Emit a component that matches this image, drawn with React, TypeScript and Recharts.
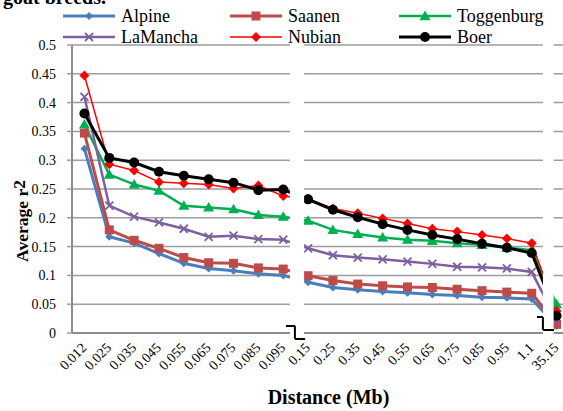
import React from 'react'
import {
  LineChart, Line, XAxis, YAxis, CartesianGrid, ReferenceArea, ReferenceLine,
} from 'recharts'

const DISTANCES = [
  '0.012', '0.025', '0.035', '0.045', '0.055', '0.065', '0.075', '0.085', '0.095',
  '0.15', '0.25', '0.35', '0.45', '0.55', '0.65', '0.75', '0.85', '0.95', '1.1', '35.15',
]

const ALPINE = [0.32, 0.167, 0.156, 0.138, 0.121, 0.112, 0.108, 0.103, 0.1, 0.088, 0.079, 0.075, 0.072, 0.07, 0.067, 0.065, 0.062, 0.061, 0.059, 0.012]
const SAANEN = [0.347, 0.179, 0.161, 0.147, 0.131, 0.122, 0.121, 0.113, 0.111, 0.0995, 0.091, 0.085, 0.082, 0.08, 0.079, 0.076, 0.0735, 0.071, 0.069, 0.015]
const TOGGENBURG = [0.362, 0.275, 0.258, 0.247, 0.221, 0.218, 0.215, 0.205, 0.202, 0.195, 0.179, 0.172, 0.166, 0.162, 0.16, 0.156, 0.153, 0.148, 0.144, 0.05]
const LAMANCHA = [0.41, 0.221, 0.202, 0.192, 0.181, 0.167, 0.169, 0.163, 0.162, 0.147, 0.135, 0.131, 0.128, 0.124, 0.12, 0.115, 0.114, 0.112, 0.106, 0.022]
const NUBIAN = [0.447, 0.293, 0.282, 0.262, 0.26, 0.258, 0.251, 0.256, 0.238, 0.233, 0.216, 0.208, 0.199, 0.19, 0.181, 0.176, 0.17, 0.164, 0.156, 0.038]
const BOER = [0.381, 0.304, 0.296, 0.28, 0.273, 0.267, 0.261, 0.248, 0.249, 0.232, 0.214, 0.201, 0.189, 0.179, 0.17, 0.163, 0.155, 0.148, 0.139, 0.03]

const Y_TICKS = [0, 0.05, 0.1, 0.15, 0.2, 0.25, 0.3, 0.35, 0.4, 0.45, 0.5]

type Marker = 'diamond' | 'square' | 'triangle' | 'cross' | 'circle'

const SERIES: { name: string; values: number[]; color: string; width: number; marker: Marker; size: number }[] = [
  { name: 'Alpine', values: ALPINE, color: '#4A7EBB', width: 3, marker: 'diamond', size: 4 },
  { name: 'Saanen', values: SAANEN, color: '#BE4B48', width: 3, marker: 'square', size: 4.5 },
  { name: 'Toggenburg', values: TOGGENBURG, color: '#00B050', width: 2.5, marker: 'triangle', size: 5.5 },
  { name: 'LaMancha', values: LAMANCHA, color: '#7D60A0', width: 2.5, marker: 'cross', size: 4 },
  { name: 'Nubian', values: NUBIAN, color: '#FF0000', width: 1.5, marker: 'diamond', size: 5 },
  { name: 'Boer', values: BOER, color: '#000000', width: 3, marker: 'circle', size: 5 },
]

const data = DISTANCES.map((d, i) => {
  const row: Record<string, number | string> = { idx: i, distance: d }
  SERIES.forEach(s => { row[s.name] = s.values[i] })
  return row
})

// axis breaks (white cut + Z mark), in category index units
const BREAKS = [
  { from: 8.27, to: 8.84, z: [[8.11, 0.0122], [8.47, 0.0122], [8.47, -0.0104], [8.88, -0.0104]] },
  { from: 18.45, to: 18.88, z: [[18.21, 0.0278], [18.45, 0.0278], [18.45, 0.0052], [18.9, 0.0052]] },
]

const FONT = '"Liberation Serif", "Times New Roman", serif'
const GRID = '#9d9d9d'

function marker(kind: Marker, cx: number, cy: number, color: string, s: number, key?: string) {
  switch (kind) {
    case 'diamond':
      return <polygon key={key} points={`${cx},${cy - s} ${cx + s},${cy} ${cx},${cy + s} ${cx - s},${cy}`} fill={color} />
    case 'square':
      return <rect key={key} x={cx - s} y={cy - s} width={s * 2} height={s * 2} fill={color} />
    case 'triangle':
      return <polygon key={key} points={`${cx},${cy - s} ${cx + s},${cy + s * 0.75} ${cx - s},${cy + s * 0.75}`} fill={color} />
    case 'cross':
      return (
        <g key={key} stroke={color} strokeWidth={1.8}>
          <line x1={cx - s} y1={cy - s} x2={cx + s} y2={cy + s} />
          <line x1={cx - s} y1={cy + s} x2={cx + s} y2={cy - s} />
        </g>
      )
    default:
      return <circle key={key} cx={cx} cy={cy} r={s} fill={color} />
  }
}

const XTick = (props: any) => {
  const { x, y, payload } = props
  const tx = x + 3
  const ty = y + 15.6
  return (
    <text x={tx} y={ty} textAnchor="end" transform={`rotate(-45, ${tx}, ${ty})`}
      fontFamily={FONT} fontSize={14} fill="#000">
      {DISTANCES[payload.value]}
    </text>
  )
}

function LegendAndTitle() {
  return (
    <svg width={563} height={50} style={{ position: 'absolute', left: 0, top: 0, pointerEvents: 'none' }}>
      <text x={3} y={4} fontFamily={FONT} fontWeight="bold" fontSize={20} fill="#000">goat breeds.</text>
      {SERIES.map((s, i) => {
        const col = i % 3
        const row = Math.floor(i / 3)
        const x0 = [63, 230, 399][col]
        const ly = 16 + row * 21
        return (
          <g key={s.name}>
            <line x1={x0} y1={ly} x2={x0 + 52} y2={ly} stroke={s.color} strokeWidth={s.width} />
            {marker(s.marker, x0 + 26, ly, s.color, s.size)}
            <text x={x0 + 58} y={ly + 6} fontFamily={FONT} fontSize={18} fill="#000">{s.name}</text>
          </g>
        )
      })}
    </svg>
  )
}

export default function App() {
  return (
    <div style={{ position: 'absolute', left: 0, top: 0, width: 563, height: 411, overflow: 'hidden', background: '#fff' }}>
      <LineChart width={569} height={411} data={data} margin={{ top: 45, right: 0, bottom: 0, left: 0 }}>
        <CartesianGrid vertical={false} stroke={GRID} strokeWidth={1.5} />
        <XAxis
          type="number"
          dataKey="idx"
          domain={[-0.5, 19.5]}
          ticks={DISTANCES.map((_, i) => i)}
          interval={0}
          tick={<XTick />}
          tickLine={false}
          tickSize={0}
          tickMargin={0}
          height={78}
          axisLine={{ stroke: '#8c8c8c', strokeWidth: 2 }}
          label={{
            value: 'Distance (Mb)', position: 'insideBottom', offset: 7, dx: 8,
            style: { fontFamily: FONT, fontWeight: 'bold', fontSize: 20, fill: '#000' },
          }}
        />
        <YAxis
          domain={[0, 0.5]}
          ticks={Y_TICKS}
          interval={0}
          width={72}
          tickSize={5}
          tickMargin={11}
          tick={{ fontFamily: FONT, fontSize: 14, fill: '#000' }}
          tickFormatter={v => String(v)}
          axisLine={{ stroke: '#8c8c8c', strokeWidth: 2 }}
          tickLine={{ stroke: GRID, strokeWidth: 1.5 }}
          label={{
            content: (p: any) => {
              const vb = p.viewBox
              const cx = vb.x + 28
              const cy = vb.y + vb.height / 2 + 32
              return (
                <text x={cx} y={cy} textAnchor="middle" transform={`rotate(-90, ${cx}, ${cy})`}
                  fontFamily={FONT} fontWeight="bold" fontSize={17.5} fill="#000">
                  Average r<tspan dy={-3}>2</tspan>
                </text>
              )
            },
          }}
        />
        {SERIES.map(s => (
          <Line
            key={s.name}
            type="linear"
            dataKey={s.name}
            stroke={s.color}
            strokeWidth={s.width}
            isAnimationActive={false}
            activeDot={false}
            dot={(p: any) => marker(s.marker, p.cx, p.cy, s.color, s.size, `${s.name}-${p.index}`)}
          />
        ))}
        {BREAKS.map((b, i) => (
          <ReferenceArea key={`gap-${i}`} x1={b.from} x2={b.to} y1={-0.006} y2={0.506}
            fill="#fff" fillOpacity={1} stroke="none" ifOverflow="visible" zIndex={1000} />
        ))}
        {BREAKS.flatMap((b, i) => b.z.slice(0, 3).map((pt, j) => (
          <ReferenceLine key={`z-${i}-${j}`}
            segment={[{ x: pt[0], y: pt[1] }, { x: b.z[j + 1][0], y: b.z[j + 1][1] }]}
            stroke="#000" strokeWidth={2} ifOverflow="visible" zIndex={1100} />
        )))}
      </LineChart>
      <LegendAndTitle />
    </div>
  )
}
